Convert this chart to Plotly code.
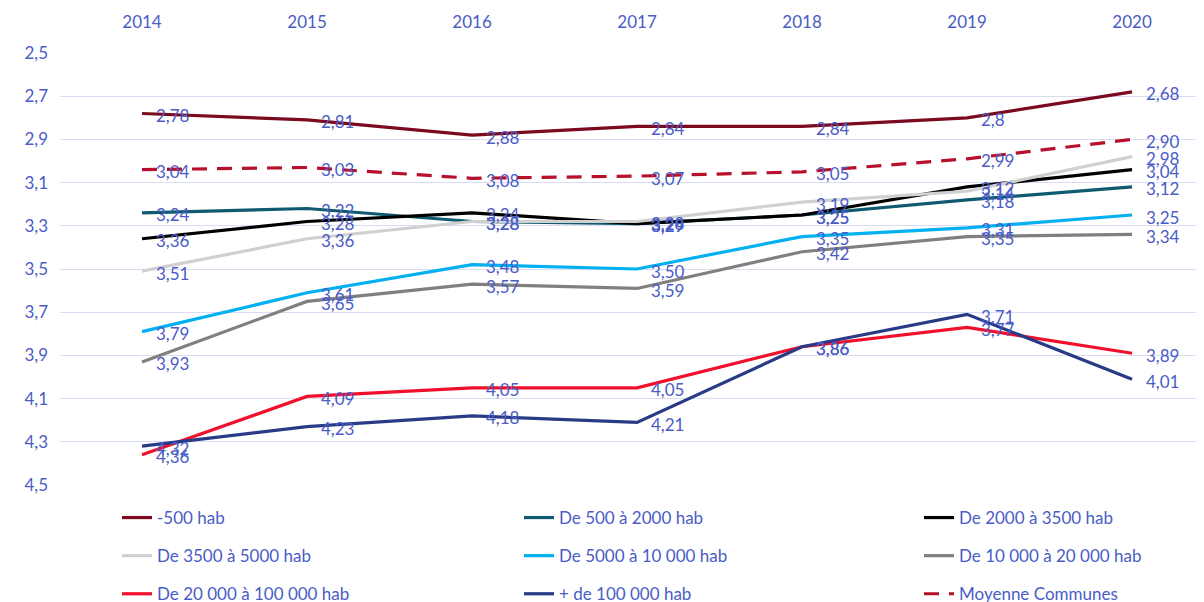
import plotly.graph_objects as go

years = [2014, 2015, 2016, 2017, 2018, 2019, 2020]

series_names = [
    "-500 hab", "De 500 à 2000 hab", "De 2000 à 3500 hab",
    "De 3500 à 5000 hab", "De 5000 à 10 000 hab", "De 10 000 à 20 000 hab",
    "De 20 000 à 100 000 hab", "+ de 100 000 hab", "Moyenne Communes",
]

moins_500 = [2.78, 2.81, 2.88, 2.84, 2.84, 2.80, 2.68]
de_500_2000 = [3.24, 3.22, 3.28, 3.29, 3.25, 3.18, 3.12]
de_2000_3500 = [3.36, 3.28, 3.24, 3.29, 3.25, 3.12, 3.04]
de_3500_5000 = [3.51, 3.36, 3.28, 3.28, 3.19, 3.14, 2.98]
de_5000_10000 = [3.79, 3.61, 3.48, 3.50, 3.35, 3.31, 3.25]
de_10000_20000 = [3.93, 3.65, 3.57, 3.59, 3.42, 3.35, 3.34]
de_20000_100000 = [4.36, 4.09, 4.05, 4.05, 3.86, 3.77, 3.89]
plus_100000 = [4.32, 4.23, 4.18, 4.21, 3.86, 3.71, 4.01]
moyenne = [3.04, 3.03, 3.08, 3.07, 3.05, 2.99, 2.90]

series_values = [moins_500, de_500_2000, de_2000_3500, de_3500_5000,
                 de_5000_10000, de_10000_20000, de_20000_100000, plus_100000, moyenne]

colors = ["#7B0A1E", "#0F5A70", "#000000", "#D0D0D0", "#00B0F0",
          "#808080", "#F0102C", "#293A86", "#B8102C"]
dashes = ["solid"] * 8 + ["15px,10px"]

y_ticks = [2.5, 2.7, 2.9, 3.1, 3.3, 3.5, 3.7, 3.9, 4.1, 4.3, 4.5]

# Label shown without trailing zero in the original
label_overrides = {(0, 5): "2,8"}

TXT = "#4A5CC6"
FONT = "Lato"

W, H = 1196, 594  # page body adds an 8px offset

def fmt(v):
    return f"{v:.2f}".replace(".", ",")

fig = go.Figure()
legend_ids = ["legend", "legend2", "legend3"]  # one legend per column
for i, (name, vals) in enumerate(zip(series_names, series_values)):
    fig.add_trace(go.Scatter(
        x=years, y=vals, name=name, mode="lines",
        line=dict(color=colors[i], width=3.2, dash=dashes[i]),
        legend=legend_ids[i % 3], legendgroup=f"g{i}",
        hoverinfo="skip",
    ))

annotations = []
for i, vals in enumerate(series_values):
    for j, (x, v) in enumerate(zip(years, vals)):
        annotations.append(dict(
            x=x, y=v, xref="x", yref="y",
            text=label_overrides.get((i, j), fmt(v)),
            showarrow=False, xanchor="left", yanchor="middle",
            xshift=12, yshift=-2,
            font=dict(family=FONT, size=17, color=TXT),
        ))

legend_common = dict(
    orientation="v", xref="container", yref="container",
    xanchor="left", yanchor="top",
    y=1 - 492 / H,
    traceorder="grouped", tracegroupgap=13,
    font=dict(family=FONT, size=17, color=TXT),
    bgcolor="rgba(0,0,0,0)", borderwidth=0,
)
col_x = [109, 511, 911]

fig.update_layout(
    width=W, height=H,
    paper_bgcolor="white", plot_bgcolor="white",
    margin=dict(l=52, r=0, t=45, b=117, autoexpand=False),
    showlegend=True,
    legend=dict(legend_common, x=col_x[0] / W),
    legend2=dict(legend_common, x=col_x[1] / W),
    legend3=dict(legend_common, x=col_x[2] / W),
    annotations=annotations,
    font=dict(family=FONT, color=TXT),
    xaxis=dict(
        side="top", range=[2013.503, 2020.436], automargin=False,
        tickvals=years, ticktext=[str(y) for y in years], tickangle=0,
        showgrid=False, zeroline=False, showline=False, ticks="",
        tickfont=dict(family=FONT, size=17, color=TXT),
        ticklabelstandoff=21,
    ),
    yaxis=dict(
        range=[4.5, 2.5], tickvals=y_ticks, automargin=False,
        ticktext=[f"{t:.1f}".replace(".", ",") for t in y_ticks],
        showgrid=True, gridcolor="#D9DCF2", gridwidth=1.2,
        zeroline=False, showline=False, ticks="",
        tickfont=dict(family=FONT, size=17, color=TXT),
        ticklabelstandoff=11,
    ),
)

fig.write_html("out.html")
